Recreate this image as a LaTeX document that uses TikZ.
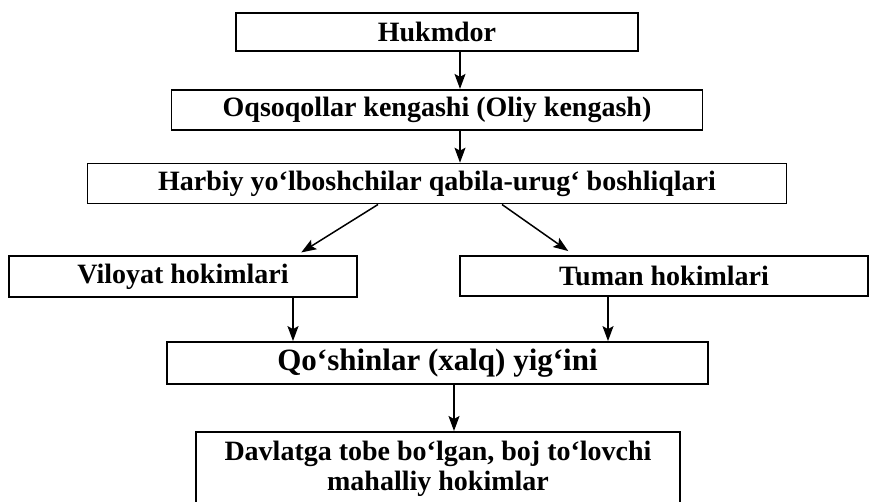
\documentclass[tikz,border=0pt]{standalone}
\usepackage{fontspec}
\setmainfont{Liberation Serif}
\usepackage{xcolor}
\usepackage{tikz}
\usetikzlibrary{positioning,arrows.meta}
\pgfdeclarelayer{nodelayer}
\pgfdeclarelayer{edgelayer}
\pgfsetlayers{main,nodelayer,edgelayer}
\tikzstyle{rank box}=[fill=white, draw=black, line width=1.8pt, shape=rectangle, align=center, inner sep=2pt, font=\fontsize{28pt}{30pt}\selectfont\bfseries]
\tikzstyle{down_edge}=[-{Stealth[length=15pt,width=11pt,inset=3pt]}, draw=black, line width=1.5pt]

\begin{document}
\begin{tikzpicture}[x=1pt, y=-1pt]
        \useasboundingbox (0,0) rectangle (871,502);
        \begin{pgfonlayer}{nodelayer}
            \node[style=rank box, minimum width=402pt, minimum height=38pt] (hukm) at (437,32) {Hukmdor};
            \node[style=rank box, minimum width=531pt, minimum height=40pt, below=37pt of hukm] (oqs) {Oqsoqollar kengashi (Oliy kengash)};
            \node[style=rank box, minimum width=699pt, minimum height=40pt, below=32pt of oqs] (harb) {Harbiy yo‘lboshchilar qabila-urug‘ boshliqlari};
            \node[style=rank box, minimum width=348pt, minimum height=41pt] (vil) at (183,276.5) {Viloyat hokimlari};
            \node[style=rank box, minimum width=408pt, minimum height=40pt] (tum) at (664,276) {Tuman hokimlari};
            \node[style=rank box, minimum width=541pt, minimum height=42pt, font=\fontsize{31pt}{33pt}\selectfont\bfseries] (qosh) at (437.5,363) {Qo‘shinlar (xalq) yig‘ini};
            \node[style=rank box, minimum width=484pt, minimum height=74pt, anchor=north] (davl) at (438,431) {Davlatga tobe bo‘lgan, boj to‘lovchi\\ mahalliy hokimlar};
        \end{pgfonlayer}
        \begin{pgfonlayer}{edgelayer}
            \draw[style={down_edge}] ([xshift=23pt]hukm.south) -- ([xshift=23pt]oqs.north);
            \draw[style={down_edge}] ([xshift=23pt]oqs.south) -- ([xshift=23pt]harb.south |- harb.north);
            \draw[style={down_edge}, shorten >=5pt] ([xshift=-59pt]harb.south) -- ([xshift=114pt]vil.north);
            \draw[style={down_edge}, shorten >=7pt] ([xshift=65pt]harb.south) -- ([xshift=-90pt]tum.north);
            \draw[style={down_edge}] ([xshift=110pt]vil.south) -- ([xshift=-144.5pt]qosh.north);
            \draw[style={down_edge}] ([xshift=-56pt]tum.south) -- ([xshift=170.5pt]qosh.north);
            \draw[style={down_edge}] ([xshift=16.5pt]qosh.south) -- ([xshift=16pt]davl.north);
        \end{pgfonlayer}
    \end{tikzpicture}
\end{document}
